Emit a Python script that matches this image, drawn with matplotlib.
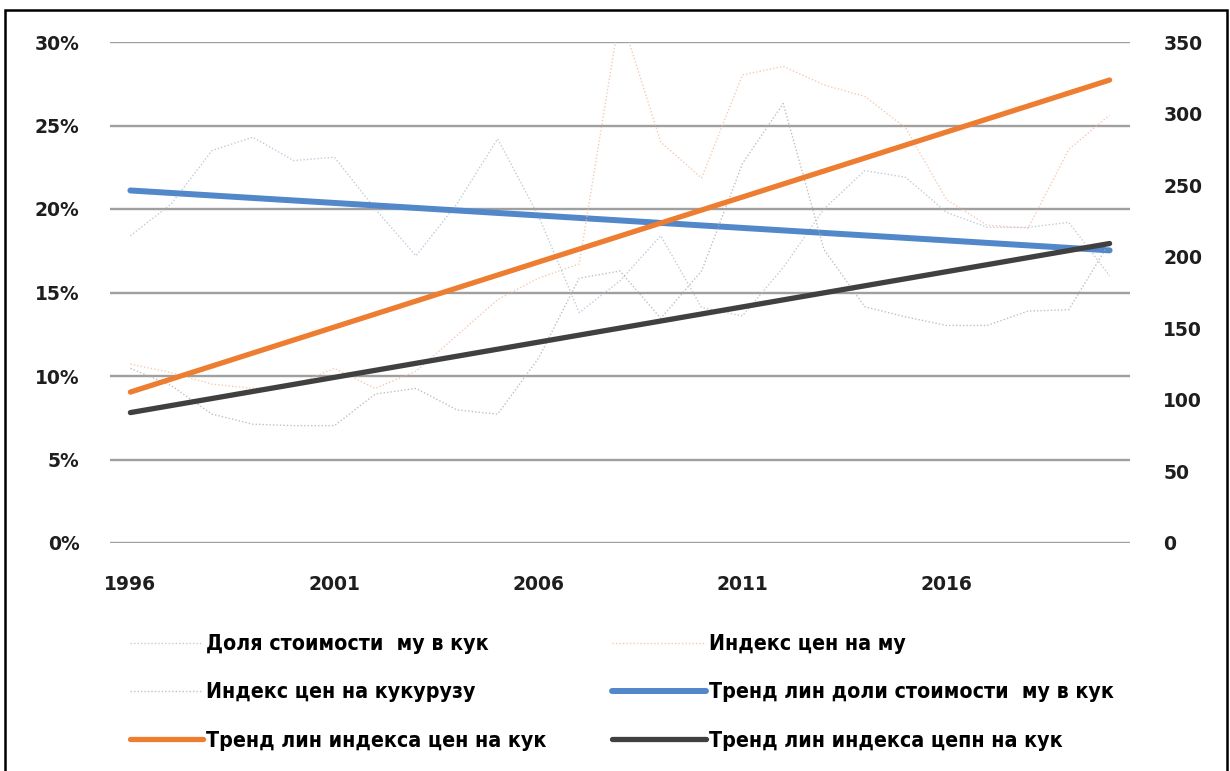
import numpy as np
import matplotlib.pyplot as plt
from matplotlib.patches import Rectangle
from matplotlib.font_manager import FontProperties

# data
years = list(range(1996, 2021))
share_pct = [18.4, 20.3, 23.5, 24.3, 22.9, 23.1, 20.0, 17.2, 20.3, 24.2, 19.6, 13.8,
             15.7, 18.4, 14.1, 13.6, 16.5, 20.0, 22.3, 21.9, 19.8, 18.9, 18.9, 19.2, 16.0]
urea_index = [125, 119, 111, 108, 110, 122, 108, 120, 145, 170, 185, 195, 370,
              280, 255, 327, 333, 320, 312, 290, 240, 222, 220, 275, 299]
corn_index = [122, 110, 90, 83, 82, 82, 104, 108, 93, 90, 129, 185, 190,
              157, 190, 265, 307, 205, 165, 158, 152, 152, 162, 163, 210]

tick_years = [1996, 2001, 2006, 2011, 2016]
labels = ['Доля стоимости  му в кук', 'Индекс цен на му', 'Индекс цен на кукурузу',
          'Тренд лин доли стоимости  му в кук', 'Тренд лин индекса цен на кук',
          'Тренд лин индекса цепн на кук']

W, H = 1230, 771
fig = plt.figure(figsize=(W / 100, H / 100), dpi=100)
ax = fig.add_axes([110 / W, 1 - 543 / H, 1020 / W, 501 / H])
ax2 = ax.twinx()

x = np.arange(len(years))
share = np.array(share_pct) / 100

# linear trends, like Excel's trendline
def trend(vals):
    k, b = np.polyfit(x, vals, 1)
    return k * x + b

c_blue, c_orange, c_gray = '#5288C9', '#ED7D31', '#404040'

l1, = ax.plot(x, share, color='#a9bccf', lw=1.0, ls=(0, (1, 1.5)), alpha=0.75)
l2, = ax2.plot(x, urea_index, color='#f2b99a', lw=1.0, ls=(0, (1, 1.5)), alpha=0.75)
l3, = ax2.plot(x, corn_index, color='#ababab', lw=1.0, ls=(0, (1, 1.5)), alpha=0.75)
t1, = ax.plot(x, trend(share), color=c_blue, lw=4.3, solid_capstyle='round')
t2, = ax2.plot(x, trend(urea_index), color=c_orange, lw=3.8, solid_capstyle='round')
t3, = ax2.plot(x, trend(corn_index), color=c_gray, lw=3.8, solid_capstyle='round')

ax.set_xlim(-0.5, len(years) - 0.5)
ax.set_ylim(0, 0.30)
ax2.set_ylim(0, 350)
ax.set_yticks(np.arange(0, 0.301, 0.05))
ax.set_yticklabels([f'{int(round(v * 100))}%' for v in np.arange(0, 0.301, 0.05)])
ax2.set_yticks(range(0, 351, 50))
ax.set_xticks([years.index(y) for y in tick_years])
ax.set_xticklabels([str(y) for y in tick_years])

ax.yaxis.grid(True, color='#9f9f9f', lw=1.7)
ax.set_axisbelow(True)
for a in (ax, ax2):
    for s in a.spines.values():
        s.set_visible(False)
    a.tick_params(length=0, labelsize=13.5, labelcolor='#1e1e1e')
    for lab in a.get_xticklabels() + a.get_yticklabels():
        lab.set_fontweight('bold')
ax.tick_params(axis='y', pad=22)
ax2.tick_params(axis='y', pad=24)
ax.tick_params(axis='x', pad=23)

lp = FontProperties(family='DejaVu Sans', weight='bold', stretch='condensed', size=15.3)
leg_kw = dict(frameon=False, prop=lp, handletextpad=0.15,
              labelspacing=1.33, borderpad=0, borderaxespad=0)
fig.legend([l1, l3, t2], [labels[0], labels[2], labels[4]], loc='upper left',
           bbox_to_anchor=(130 / W, 1 - 634 / H), handlelength=3.45, **leg_kw)
fig.legend([l2, t1, t3], [labels[1], labels[3], labels[5]], loc='upper left',
           bbox_to_anchor=(612 / W, 1 - 634 / H), handlelength=4.4, **leg_kw)

fig.patches.append(Rectangle((5 / W, -0.01), 1222 / W, 1 - 10 / H + 0.01, transform=fig.transFigure,
                             fill=False, ec='black', lw=1.8))

fig.savefig('out.png', dpi=100)
